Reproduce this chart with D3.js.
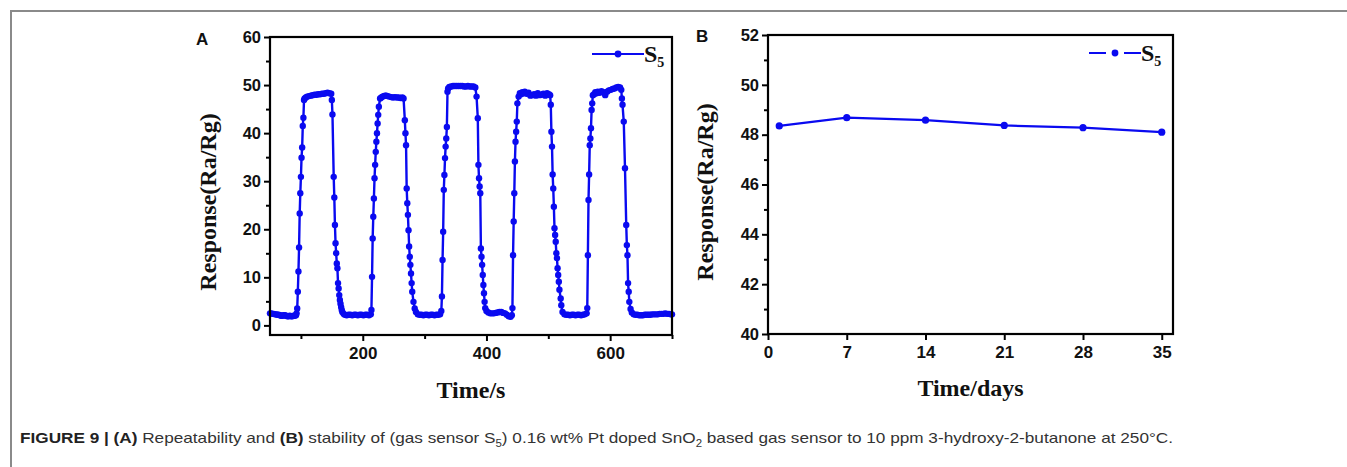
<!DOCTYPE html>
<html>
<head>
<meta charset="utf-8">
<script src="https://cdn.jsdelivr.net/npm/d3@7"></script>
<style>
  body { margin: 0; background: #fff; }
  svg { display: block; }
</style>
</head>
<body>
<svg width="1347" height="467"></svg>
<script>
// panel A: response vs time, [seconds, Ra/Rg]
const pointsA = [
  // baseline
  [50,2.5],[52,2.5],[54,2.4],[56,2.4],[58,2.3],[60,2.3],[62,2.2],[64,2.2],[66,2.1],[68,2.0],[70,2.0],
  [72,2.1],[74,2.1],[76,2.0],[78,1.9],[80,1.9],[82,2.0],[84,1.9],[86,1.9],[88,2.0],[90,2.0],[92,2.1],
  // cycle 1
  [93,2.5],[94,3.5],[95,7.0],[96,11.2],[97,16.2],[98,23.3],[99,27.5],[100,30.9],[101,34.9],[102,37.0],
  [103,41.5],[104,43.2],[105,46.9],
  [106,47.2],[108,47.4],[110,47.6],[113,47.7],[116,47.8],[119,47.9],[122,48.0],[125,48.0],[128,48.1],
  [131,48.1],[134,48.2],[137,48.2],[140,48.3],[143,48.4],[146,48.3],[149,48.2],
  [150,46.9],[151,43.9],[153,30.9],[154,26.6],[155,20.9],[156,17.1],[157,15.0],[158,12.9],[159,11.9],
  [160,8.8],[161,7.7],[162,6.3],[163,5.3],[164,4.5],[165,3.8],[166,3.2],[167,2.8],[169,2.4],
  [171,2.2],[174,2.1],[177,2.2],[180,2.2],[183,2.1],[186,2.2],[189,2.2],[192,2.1],[195,2.2],[198,2.2],
  [201,2.1],[204,2.2],[207,2.2],[210,2.1],[213,2.3],
  // cycle 2
  [214,3.2],[215,10.1],[216,18.1],[217,22.6],[218,26.4],[219,30.6],[220,33.4],[221,36.1],[222,38.2],
  [223,40.0],[224,42.0],[225,43.8],[226,45.5],[228,47.2],
  [230,47.4],[232,47.6],[234,47.7],[236,47.8],[238,47.8],[240,47.7],[243,47.6],[246,47.5],[249,47.4],
  [252,47.5],[255,47.4],[258,47.4],[261,47.3],[264,47.4],[266,47.2],
  [268,42.7],[269,40.0],[270,37.5],[271,28.5],[272,25.4],[273,23.0],[274,19.8],[275,16.4],[276,14.3],
  [277,12.6],[278,10.8],[279,8.8],[280,7.0],[282,4.9],[284,3.5],[286,2.8],[289,2.3],
  [292,2.2],[295,2.2],[298,2.1],[301,2.2],[304,2.2],[307,2.1],[310,2.2],[313,2.2],[316,2.1],[319,2.2],
  [322,2.2],[325,2.3],[327,3.0],
  // cycle 3
  [328,6.0],[329,13.6],[330,19.5],[331,28.2],[332,31.3],[333,34.8],[334,37.2],[335,38.9],[336,41.3],
  [337,48.6],[338,49.3],
  [340,49.6],[343,49.7],[346,49.8],[349,49.8],[352,49.8],[355,49.8],[358,49.8],[361,49.8],[364,49.7],
  [367,49.7],[370,49.8],[373,49.7],[376,49.7],[379,49.7],[382,49.5],
  [384,47.6],[386,43.1],[387,33.4],[388,30.6],[389,28.9],[390,27.5],[391,16.0],[392,14.3],[393,12.6],
  [394,10.5],[395,8.4],[396,6.7],[397,4.9],[398,3.6],[400,3.0],[403,2.7],[406,2.5],
  [409,2.5],[412,2.5],[415,2.6],[418,2.7],[421,2.8],[424,2.8],[427,2.6],[430,2.5],[433,2.2],[436,1.9],
  [439,1.8],[441,2.1],
  // cycle 4
  [442,3.6],[443,14.6],[444,21.6],[445,27.5],[446,34.1],[447,38.2],[448,40.3],[449,42.4],[450,46.2],
  [452,47.6],[454,48.3],
  [456,48.1],[458,48.5],[460,48.3],[462,48.6],[465,48.2],[468,48.4],[471,47.8],[474,47.9],[477,48.1],
  [480,47.8],[483,48.3],[486,47.9],[489,48.0],[492,48.2],[495,47.8],[498,48.3],[501,48.1],
  [503,47.9],[504,45.9],[505,40.3],[506,37.2],[507,31.4],[508,28.5],[509,24.7],[510,20.2],[511,18.8],
  [512,17.4],[513,15.0],[514,14.0],[515,11.9],[516,10.5],[517,9.1],[518,7.4],[520,5.6],[521,4.2],
  [523,2.8],[526,2.3],
  [529,2.2],[532,2.2],[535,2.1],[538,2.2],[541,2.2],[544,2.1],[547,2.2],[550,2.2],[553,2.1],[556,2.2],
  [559,2.3],[562,2.5],
  // cycle 5
  [563,3.6],[564,14.6],[565,26.1],[566,31.4],[567,37.5],[568,38.9],[569,41.0],[570,44.8],[571,46.2],
  [572,47.9],
  [574,48.1],[576,48.5],[578,48.3],[580,48.6],[583,48.4],[586,48.7],[589,48.5],[592,47.9],[595,48.6],
  [598,48.9],[601,49.0],[604,49.2],[607,49.3],[610,49.5],[613,49.6],[616,49.5],[618,49.0],
  [619,47.2],[620,45.9],[622,42.4],[624,32.7],[626,20.9],[627,16.7],[628,14.6],[629,8.8],[630,7.0],
  [631,4.9],[633,3.4],[635,2.7],
  [638,2.3],[641,2.2],[644,2.2],[647,2.1],[650,2.1],[653,2.1],[656,2.2],[659,2.2],[662,2.2],[665,2.2],
  [668,2.3],[671,2.3],[674,2.3],[677,2.3],[680,2.4],[683,2.4],[686,2.4],[689,2.5],[692,2.4],[695,2.4],
  [698,2.3],[700,2.3]
];

// panel B: stability over days
const daysB = [1, 7, 14, 21, 28, 35];
const respB = [48.35, 48.68, 48.58, 48.37, 48.28, 48.1];

// ticks
const ticksAx = [200, 400, 600];
const minorAx = [100, 300, 500, 700];
const ticksAy = [0, 10, 20, 30, 40, 50, 60];
const minorAy = [5, 15, 25, 35, 45, 55];
const ticksBx = [0, 7, 14, 21, 28, 35];
const ticksBy = [40, 42, 44, 46, 48, 50, 52];
const minorBy = [41, 43, 45, 47, 49, 51];

const blue = "#0a0af0";
const serif = "'Liberation Serif', 'Times New Roman', serif";
const sans = "'Liberation Sans', Arial, sans-serif";

const svg = d3.select("svg");

// outer figure frame
svg.append("path")
    .attr("d", "M11,467 L11,11 L1347,11")
    .attr("fill", "none")
    .attr("stroke", "#8a8a8a")
    .attr("stroke-width", 2);

function drawAxes(g, x, y, xt, xm, yt, ym, w, h) {
    const xa = g.append("g").attr("transform", `translate(0,${h})`)
        .call(d3.axisBottom(x).tickValues(xt).tickSize(6).tickFormat(d3.format("d")));
    if (xm.length) {
        g.append("g").attr("transform", `translate(0,${h})`)
            .call(d3.axisBottom(x).tickValues(xm).tickSize(4).tickFormat(""));
    }
    const ya = g.append("g")
        .call(d3.axisLeft(y).tickValues(yt).tickSize(6).tickFormat(d3.format("d")));
    g.append("g")
        .call(d3.axisLeft(y).tickValues(ym).tickSize(4).tickFormat(""));

    g.selectAll(".domain").remove();
    g.selectAll(".tick line").attr("stroke", "#000").attr("stroke-width", 2);
    xa.selectAll("text")
        .attr("font-family", sans).attr("font-weight", "bold")
        .attr("font-size", "17px").attr("fill", "#111").attr("dy", "0.9em");
    ya.selectAll("text")
        .attr("font-family", sans).attr("font-weight", "bold")
        .attr("font-size", "16.5px").attr("fill", "#111").attr("x", -9);

    g.append("rect")
        .attr("width", w).attr("height", h)
        .attr("fill", "none").attr("stroke", "#000").attr("stroke-width", 2.2);
}

function legend(g, x0, y0, dashed) {
    g.append("line")
        .attr("x1", x0).attr("x2", x0 + 52).attr("y1", y0).attr("y2", y0)
        .attr("stroke", blue).attr("stroke-width", 2.2)
        .attr("stroke-dasharray", dashed ? "17,18" : null);
    g.append("circle").attr("cx", x0 + 26).attr("cy", y0).attr("r", 3.4).attr("fill", blue);
    const t = g.append("text")
        .attr("x", x0 + 52).attr("y", y0 + 8)
        .attr("font-family", serif).attr("font-weight", "bold")
        .attr("font-size", "24px").attr("fill", "#111");
    t.append("tspan").text("S");
    t.append("tspan").attr("font-size", "14px").attr("dy", 5).text("5");
}

// ---- panel A
const aLeft = 270, aTop = 37, aW = 402, aH = 298;
const gA = svg.append("g").attr("transform", `translate(${aLeft},${aTop})`);

const xA = d3.scaleLinear().domain([50, 700]).range([0, aW]);
const yA = d3.scaleLinear().domain([-2, 60]).range([aH, 0]);

gA.append("path")
    .datum(pointsA)
    .attr("d", d3.line().x(d => xA(d[0])).y(d => yA(d[1])))
    .attr("fill", "none")
    .attr("stroke", blue)
    .attr("stroke-width", 2.4);

gA.selectAll("circle.pt")
    .data(pointsA)
    .enter().append("circle")
    .attr("class", "pt")
    .attr("cx", d => xA(d[0]))
    .attr("cy", d => yA(d[1]))
    .attr("r", 3.2)
    .attr("fill", blue);

drawAxes(gA, xA, yA, ticksAx, minorAx, ticksAy, minorAy, aW, aH);
legend(gA, 592 - aLeft, 54 - aTop, false);

gA.append("text")
    .attr("x", aW / 2).attr("y", 398 - aTop)
    .attr("text-anchor", "middle")
    .attr("font-family", serif).attr("font-weight", "bold")
    .attr("font-size", "24px").attr("fill", "#111")
    .text("Time/s");

svg.append("text")
    .attr("transform", "translate(216,202) rotate(-90)")
    .attr("text-anchor", "middle")
    .attr("font-family", serif).attr("font-weight", "bold")
    .attr("font-size", "24px").attr("fill", "#111")
    .text("Response(Ra/Rg)");

svg.append("text")
    .attr("x", 196).attr("y", 45)
    .attr("font-family", sans).attr("font-weight", "bold")
    .attr("font-size", "17px").attr("fill", "#111")
    .text("A");

// ---- panel B
const bLeft = 768, bTop = 35, bW = 405, bH = 299;
const gB = svg.append("g").attr("transform", `translate(${bLeft},${bTop})`);

const xB = d3.scaleLinear().domain([0, 36]).range([0, bW]);
const yB = d3.scaleLinear().domain([40, 52]).range([bH, 0]);

gB.append("path")
    .datum(daysB)
    .attr("d", d3.line().x(d => xB(d)).y((d, i) => yB(respB[i])))
    .attr("fill", "none")
    .attr("stroke", blue)
    .attr("stroke-width", 2.2);

gB.selectAll("circle.pt")
    .data(daysB)
    .enter().append("circle")
    .attr("class", "pt")
    .attr("cx", d => xB(d))
    .attr("cy", (d, i) => yB(respB[i]))
    .attr("r", 3.6)
    .attr("fill", blue);

drawAxes(gB, xB, yB, ticksBx, [], ticksBy, minorBy, bW, bH);
legend(gB, 1089 - bLeft, 53 - bTop, true);

gB.append("text")
    .attr("x", bW / 2).attr("y", 396 - bTop)
    .attr("text-anchor", "middle")
    .attr("font-family", serif).attr("font-weight", "bold")
    .attr("font-size", "24px").attr("fill", "#111")
    .text("Time/days");

svg.append("text")
    .attr("transform", "translate(713,192) rotate(-90)")
    .attr("text-anchor", "middle")
    .attr("font-family", serif).attr("font-weight", "bold")
    .attr("font-size", "24px").attr("fill", "#111")
    .text("Response(Ra/Rg)");

svg.append("text")
    .attr("x", 696).attr("y", 42)
    .attr("font-family", sans).attr("font-weight", "bold")
    .attr("font-size", "17px").attr("fill", "#111")
    .text("B");

// ---- caption
const cap = svg.append("text")
    .attr("x", 20).attr("y", 443)
    .attr("font-family", sans)
    .attr("font-size", "15px")
    .attr("fill", "#333")
    .attr("textLength", 1153)
    .attr("lengthAdjust", "spacingAndGlyphs");
const parts = [
    ["FIGURE 9 | (A)", true], [" Repeatability and ", false], ["(B)", true],
    [" stability of (gas sensor S", false], ["5", false, true], [") 0.16 wt% Pt doped SnO", false],
    ["2", false, true], [" based gas sensor to 10 ppm 3-hydroxy-2-butanone at 250°C.", false]
];
let sub = false;
parts.forEach(p => {
    const ts = cap.append("tspan").text(p[0]);
    if (p[1]) ts.attr("font-weight", "bold").attr("fill", "#222");
    if (p[2]) { ts.attr("font-size", "10px").attr("dy", 4); sub = true; }
    else if (sub) { ts.attr("dy", -4); sub = false; }
});
</script>
</body>
</html>
